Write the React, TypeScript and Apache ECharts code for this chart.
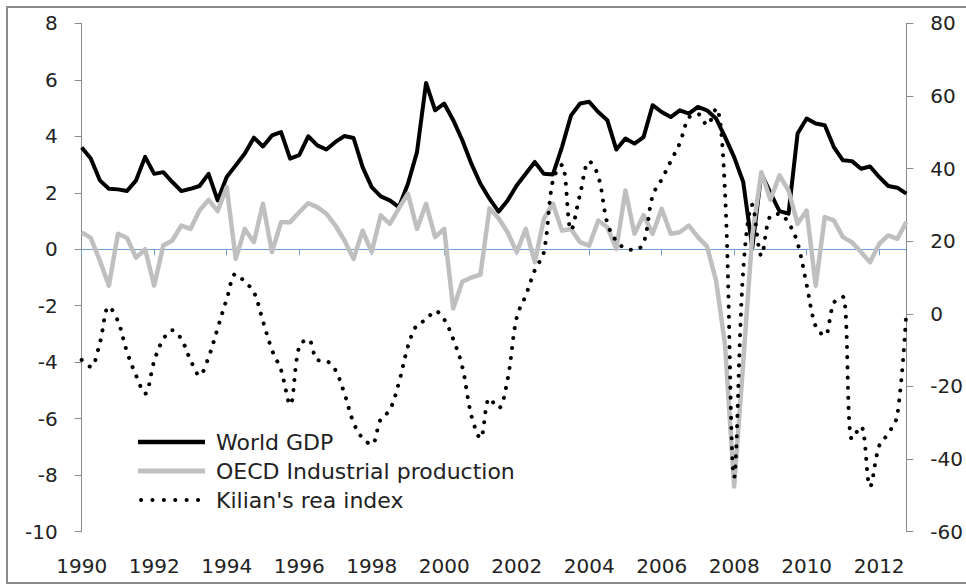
import React, { useEffect, useRef } from "react";
import * as echarts from "echarts";

const years = [1990, 1991, 1992, 1993, 1994, 1995, 1996, 1997, 1998, 1999, 2000, 2001, 2002, 2003, 2004, 2005, 2006, 2007, 2008, 2009, 2010, 2011, 2012];
const quarterNames = ["Q1", "Q2", "Q3", "Q4"];
const categories = years.flatMap((y) => quarterNames.map((q) => `${y} ${q}`));

const worldGdp = [
  3.6, 3.21, 2.44, 2.14, 2.12, 2.06, 2.44, 3.27, 2.67, 2.73,
  2.38, 2.06, 2.14, 2.24, 2.67, 1.73, 2.56, 2.97, 3.39, 3.95,
  3.64, 4.03, 4.15, 3.21, 3.33, 4.0, 3.68, 3.53, 3.8, 4.01,
  3.94, 2.91, 2.2, 1.87, 1.73, 1.49, 2.32, 3.44, 5.89, 4.92,
  5.16, 4.57, 3.86, 3.03, 2.32, 1.79, 1.33, 1.73, 2.26, 2.67,
  3.09, 2.67, 2.65, 3.62, 4.74, 5.16, 5.22, 4.86, 4.57, 3.53,
  3.92, 3.74, 3.97, 5.1, 4.86, 4.68, 4.92, 4.8, 5.04, 4.92,
  4.63, 3.97, 3.26, 2.38, 0.05, 2.68, 2.0, 1.35, 1.26, 4.1,
  4.63, 4.45, 4.39, 3.62, 3.15, 3.12, 2.85, 2.93, 2.56, 2.24,
  2.18, 1.97,
];

const oecdIndustrial = [
  0.6, 0.4, -0.4, -1.29, 0.55, 0.4, -0.3, 0.0, -1.29, 0.13,
  0.31, 0.84, 0.72, 1.37, 1.75, 1.35, 2.2, -0.34, 0.72, 0.25,
  1.61, -0.1, 0.96, 0.96, 1.31, 1.63, 1.49, 1.26, 0.84, 0.31,
  -0.34, 0.66, -0.1, 1.2, 0.9, 1.45, 1.97, 0.72, 1.61, 0.43,
  0.72, -2.1, -1.15, -1.0, -0.9, 1.45, 1.1, 0.6, -0.1, 0.72,
  -0.46, 1.08, 1.61, 0.66, 0.72, 0.25, 0.13, 1.02, 0.78, 0.01,
  2.08, 0.55, 1.2, 0.55, 1.43, 0.55, 0.6, 0.84, 0.43, 0.1,
  -1.1, -3.4, -8.4, -4.0, 0.5, 2.73, 1.75, 2.62, 2.08, 0.9,
  1.37, -1.29, 1.14, 1.02, 0.43, 0.25, -0.1, -0.46, 0.19, 0.49,
  0.37, 0.96,
];

const kilianRea = [
  -12.7, -14.6, -8, 2, -2, -10.5, -17, -22, -13, -7,
  -4.5, -7, -12.7, -17, -12, -4, 4, 11, 8.8, 6,
  -2, -10, -15.5, -25, -9, -7, -12.7, -13, -15.5, -22,
  -30, -34.3, -36, -29, -26.5, -19, -9, -3, -1.7, 0.8,
  -1.5, -7, -14.6, -28, -34.3, -23.3, -26, -18, -1, 5,
  12, 17, 36.8, 41, 23, 33, 42, 38, 25, 20,
  18, 17.6, 19.4, 32.5, 37, 42, 47, 54, 55, 52,
  56.6, 33, -45, 12, 30, 16, 27, 27.5, 25, 19.5,
  8, -3.5, -6, 3, 4.7, -34.5, -31, -47.6, -36.4, -33,
  -28, 0.6,
];

const seriesNames = ["World GDP", "OECD Industrial production", "Kilian's rea index"];

const FONT = "DejaVu Sans";
const TEXT = "#222222";
const AXIS_GRAY = "#8a8a8a";
const ZERO_BLUE = "#6f9bd6";
const GDP_COLOR = "#000000";
const OECD_COLOR = "#bfbfbf";
const KILIAN_COLOR = "#000000";
const KILIAN_DASH = [0.1, 10];

const legendRows = [
  { name: seriesNames[0], y: 442, stroke: GDP_COLOR, width: 4.5, dash: null as number[] | null },
  { name: seriesNames[1], y: 471, stroke: OECD_COLOR, width: 5, dash: null as number[] | null },
  { name: seriesNames[2], y: 500, stroke: KILIAN_COLOR, width: 4, dash: [0.1, 11.3] },
];

export default function App() {
  const ref = useRef<HTMLDivElement>(null);

  useEffect(() => {
    if (!ref.current) return;
    const chart = echarts.init(ref.current, null, { renderer: "svg" });

    const legendGraphics = legendRows.flatMap((r) => [
      {
        type: "line",
        silent: true,
        z: 50,
        shape: { x1: r.dash ? 141 : 138, y1: r.y, x2: 205, y2: r.y },
        style: {
          stroke: r.stroke,
          lineWidth: r.width,
          lineDash: r.dash || undefined,
          lineCap: r.dash ? "round" : "butt",
        },
      },
      {
        type: "text",
        silent: true,
        z: 50,
        x: 216,
        y: r.y,
        style: {
          text: r.name,
          fontFamily: FONT,
          fontSize: 22,
          fill: TEXT,
          verticalAlign: "middle",
          align: "left",
        },
      },
    ]);

    chart.setOption({
      animation: false,
      backgroundColor: "#ffffff",
      textStyle: { fontFamily: FONT },
      grid: { left: 81.7, right: 59.3, top: 23.3, bottom: 54.3, containLabel: false },
      graphic: [
        {
          type: "rect",
          silent: true,
          z: -10,
          shape: { x: 7, y: 7, width: 975, height: 576 },
          style: { fill: "none", stroke: "#8c8c8c", lineWidth: 2 },
        },
        ...legendGraphics,
      ],
      xAxis: [
        {
          type: "category",
          data: categories,
          boundaryGap: false,
          position: "bottom",
          axisLine: { show: true, onZero: true, onZeroAxisIndex: 0, lineStyle: { color: ZERO_BLUE, width: 1 } },
          axisTick: { show: true, interval: 7, length: 6, inside: false, lineStyle: { color: ZERO_BLUE, width: 1 } },
          axisLabel: { show: false },
          splitLine: { show: false },
        },
        {
          type: "category",
          data: categories,
          boundaryGap: false,
          position: "bottom",
          axisLine: { show: false, onZero: false },
          axisTick: { show: false },
          axisLabel: {
            show: true,
            interval: 7,
            margin: 24,
            fontFamily: FONT,
            fontSize: 20,
            color: TEXT,
            formatter: (v: string) => v.slice(0, 4),
          },
          splitLine: { show: false },
        },
      ],
      yAxis: [
        {
          type: "value",
          min: -10,
          max: 8,
          interval: 2,
          position: "left",
          axisLine: { show: true, onZero: false, lineStyle: { color: AXIS_GRAY, width: 1 } },
          axisTick: { show: true, length: 7, lineStyle: { color: AXIS_GRAY, width: 1 } },
          axisLabel: { margin: 24, fontFamily: FONT, fontSize: 20, color: TEXT },
          splitLine: { show: false },
        },
        {
          type: "value",
          min: -60,
          max: 80,
          interval: 20,
          position: "right",
          axisLine: { show: true, onZero: false, lineStyle: { color: AXIS_GRAY, width: 1 } },
          axisTick: { show: true, length: 7, lineStyle: { color: AXIS_GRAY, width: 1 } },
          axisLabel: { margin: 24, fontFamily: FONT, fontSize: 20, color: TEXT },
          splitLine: { show: false },
        },
      ],
      series: [
        {
          name: seriesNames[0],
          type: "line",
          xAxisIndex: 0,
          yAxisIndex: 0,
          data: worldGdp,
          symbol: "none",
          color: GDP_COLOR,
          lineStyle: { color: GDP_COLOR, width: 4, join: "round" },
        },
        {
          name: seriesNames[1],
          type: "line",
          xAxisIndex: 0,
          yAxisIndex: 0,
          data: oecdIndustrial,
          symbol: "none",
          color: OECD_COLOR,
          lineStyle: { color: OECD_COLOR, width: 4.5, join: "round" },
        },
        {
          name: seriesNames[2],
          type: "line",
          xAxisIndex: 0,
          yAxisIndex: 1,
          data: kilianRea,
          symbol: "none",
          smooth: 0.35,
          color: KILIAN_COLOR,
          lineStyle: { color: KILIAN_COLOR, width: 4, type: KILIAN_DASH, cap: "round" },
        },
      ],
    });
    return () => chart.dispose();
  }, []);

  return (
    <div
      ref={ref}
      style={{ position: "absolute", left: 0, top: 0, width: 966, height: 586, background: "#ffffff" }}
    />
  );
}
